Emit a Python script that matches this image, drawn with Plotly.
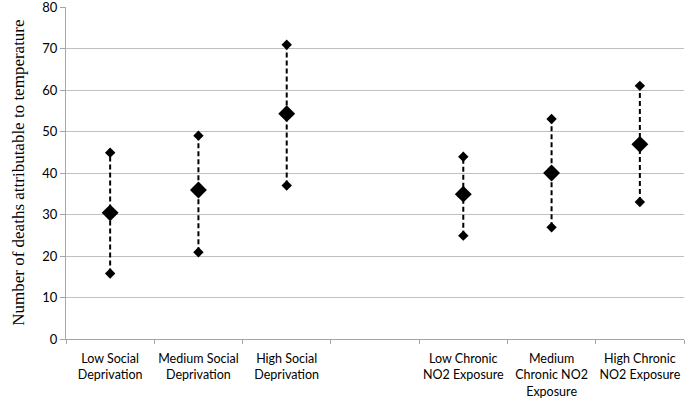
import plotly.graph_objects as go

categories = ["Low Social<br>Deprivation", "Medium Social<br>Deprivation", "High Social<br>Deprivation", "",
              "Low Chronic<br>NO2 Exposure", "Medium<br>Chronic NO2<br>Exposure", "High Chronic<br>NO2 Exposure"]
mid_vals = [30.4, 35.9, 54.3, None, 34.9, 40.0, 46.9]
low_vals = [15.8, 20.9, 37.0, None, 24.9, 26.9, 33.0]
high_vals = [44.9, 49.0, 70.9, None, 43.9, 53.0, 61.0]
y_ticks = [0, 10, 20, 30, 40, 50, 60, 70, 80]

fig = go.Figure()
positions = list(range(len(categories)))
for i, (m, lo, hi) in enumerate(zip(mid_vals, low_vals, high_vals)):
    if m is None:
        continue
    fig.add_trace(go.Scatter(
        x=[positions[i], positions[i]], y=[lo, hi], mode="lines+markers",
        line=dict(color="black", width=2, dash="5px,3px"),
        marker=dict(symbol="diamond", size=8, color="black"),
        showlegend=False, hoverinfo="skip"))
fig.add_trace(go.Scatter(
    x=[p for p, m in zip(positions, mid_vals) if m is not None],
    y=[m for m in mid_vals if m is not None], mode="markers",
    marker=dict(symbol="diamond", size=13, color="black"),
    showlegend=False))

fig.update_layout(
    width=685, height=400,
    margin=dict(l=66, r=1, t=7, b=61, autoexpand=False),
    paper_bgcolor="white", plot_bgcolor="white",
    font=dict(family="Lato, Open Sans, sans-serif", size=12, color="black"),
    xaxis=dict(
        range=[-0.5, len(categories) - 0.5],
        tickmode="array", tickvals=positions, ticktext=categories,
        ticks="", showgrid=False, zeroline=False, automargin=False,
        ticklabeloverflow="allow", ticklabelstandoff=8,
        showline=True, linecolor="#a6a6a6", linewidth=1,
        tickfont=dict(size=12.5),
        minor=dict(tickmode="array", tickvals=[p - 0.5 for p in positions] + [len(categories) - 0.5],
                   ticks="outside", ticklen=4, tickcolor="#a6a6a6", showgrid=False),
        fixedrange=True),
    yaxis=dict(
        range=[0, 80], tickmode="array", tickvals=y_ticks, automargin=False,
        ticklabeloverflow="allow",
        showgrid=True, gridcolor="#c0c0c0", gridwidth=1,
        zeroline=False, showline=True, linecolor="#a6a6a6", linewidth=1,
        ticks="outside", ticklen=5, tickcolor="#a6a6a6",
        tickfont=dict(size=13), fixedrange=True),
    annotations=[dict(
        text="Number of deaths attributable to temperature",
        xref="paper", yref="paper", x=-0.078, y=0.5,
        xanchor="center", yanchor="middle", textangle=-90, showarrow=False,
        font=dict(family="Liberation Serif, Times New Roman, serif", size=17, color="black"))],
)

fig.write_html("out.html", config={"displayModeBar": False},
               post_script="document.body.style.margin='0';")
